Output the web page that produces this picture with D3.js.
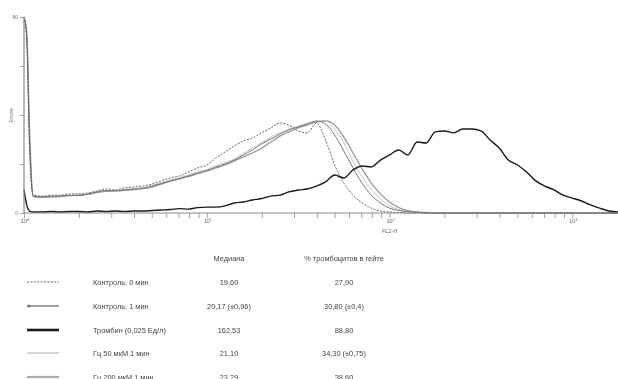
<!DOCTYPE html>
<html>
<head>
<meta charset="utf-8">
<script src="https://cdn.jsdelivr.net/npm/d3@7"></script>
<style>
  html, body { margin: 0; padding: 0; background: #fff; }
  svg { display: block; font-family: "Liberation Sans", Arial, sans-serif; }
</style>
</head>
<body>
<svg id="chart" width="618" height="379"></svg>
<script>
// FL2-H channel positions (log amplified fluorescence)
const fl2 = [1, 1.035, 1.072, 1.122, 1.259, 1.413, 1.585, 1.778, 1.995, 2.239,
  2.512, 2.818, 3.162, 3.548, 3.981, 4.467, 5.012, 5.623, 6.310, 7.079,
  7.943, 8.913, 10, 11.22, 12.59, 14.13, 15.85, 17.78, 19.95, 22.39,
  25.12, 28.18, 31.62, 35.48, 39.81, 44.67, 50.12, 56.23, 63.10, 70.79,
  79.43, 89.13, 100, 112.2, 125.9, 141.3, 158.5, 177.8, 199.5, 223.9,
  251.2, 281.8, 316.2, 354.8, 398.1, 446.7, 501.2, 562.3, 631.0, 707.9,
  794.3, 891.3, 1000, 1122, 1259, 1413, 1585, 1778];

// Event counts per channel for each sample
const control0 = [80, 70.6, 25.7, 7.3, 6.9, 7.3, 7.3, 7.8, 7.8, 8.2,
  9.0, 9.8, 9.4, 10.2, 10.6, 11.0, 11.8, 13.1, 14.3, 15.1,
  16.7, 18.4, 19.6, 22.4, 24.9, 27.3, 29.4, 30.6, 32.7, 34.7,
  36.7, 35.9, 33.5, 32.7, 36.7, 29.8, 19.6, 12.2, 7.3, 4.1,
  2.0, 0.8, 0.4, 0.2, 0, 0, 0, 0, 0, 0,
  0, 0, 0, 0, 0, 0, 0, 0, 0, 0,
  0, 0, 0, 0, 0, 0, 0, 0];
const control1 = [80, 72, 30, 7.0, 6.5, 6.9, 6.9, 7.3, 7.1, 7.8,
  8.6, 9.2, 9.0, 9.4, 9.8, 10.0, 11.0, 12.0, 13.1, 14.0,
  15.1, 16.3, 17.3, 18.8, 20.0, 21.6, 23.7, 25.7, 28.2, 30.2,
  32.2, 33.9, 35.1, 36.3, 37.6, 36.3, 31.8, 25.3, 18.4, 12.2,
  7.3, 4.1, 2.0, 1.0, 0.5, 0.3, 0, 0, 0, 0,
  0, 0, 0, 0, 0, 0, 0, 0, 0, 0,
  0, 0, 0, 0, 0, 0, 0, 0];
const thrombin = [9.4, 3.3, 0.8, 0.4, 0.4, 0.6, 0.4, 0.6, 0.6, 0.4,
  0.8, 0.6, 0.8, 0.6, 0.8, 0.8, 1.0, 1.2, 1.4, 1.8,
  1.6, 2.2, 2.4, 2.4, 2.9, 4.1, 4.5, 5.3, 5.9, 6.9,
  7.3, 8.6, 9.4, 9.8, 11.0, 12.7, 15.5, 14.3, 17.6, 19.2,
  18.8, 21.6, 23.7, 25.7, 23.7, 29.0, 28.6, 33.1, 33.5, 32.7,
  34.3, 34.3, 33.5, 29.8, 26.5, 21.6, 19.6, 16.7, 13.1, 11.0,
  9.4, 7.3, 6.1, 4.9, 3.3, 2.0, 0.8, 0.4];
const hc50 = [80, 73, 32, 6.5, 6.3, 6.7, 6.9, 7.1, 7.3, 7.6,
  8.2, 9.0, 9.2, 9.6, 9.8, 10.4, 11.2, 12.4, 13.5, 14.5,
  15.5, 16.9, 17.8, 19.4, 20.6, 22.0, 24.3, 26.5, 28.6, 31.0,
  32.7, 34.3, 35.5, 36.7, 37.1, 37.6, 34.3, 28.6, 21.2, 14.7,
  9.8, 5.7, 2.9, 1.4, 0.6, 0.3, 0, 0, 0, 0,
  0, 0, 0, 0, 0, 0, 0, 0, 0, 0,
  0, 0, 0, 0, 0, 0, 0, 0];
const hc200 = [80, 74, 35, 6.7, 6.5, 6.5, 6.7, 7.1, 7.3, 7.6,
  8.4, 8.8, 9.0, 9.2, 9.6, 10.0, 10.6, 11.8, 12.9, 13.9,
  14.9, 16.1, 17.1, 18.4, 19.6, 21.2, 22.9, 24.5, 26.5, 29.0,
  31.4, 33.1, 34.7, 35.9, 37.1, 37.6, 35.9, 31.0, 24.5, 18.0,
  12.2, 7.8, 4.5, 2.2, 1.0, 0.4, 0.2, 0, 0, 0,
  0, 0, 0, 0, 0, 0, 0, 0, 0, 0,
  0, 0, 0, 0, 0, 0, 0, 0];

// Legend table rows
const names = ["Контроль, 0 мин", "Контроль, 1 мин", "Тромбин (0,025 Ед/л)",
  "Гц 50 мкМ 1 мин", "Гц 200 мкМ 1 мин"];
const medians = ["19,60", "20,17 (±0,96)", "162,53", "21,10", "23,29"];
const percents = ["27,90", "30,80 (±0,4)", "88,80", "34,30 (±0,75)", "38,60"];
const headers = ["Медиана", "% тромбоцитов в гейте"];

// Axis tick labels
const xDecades = [1, 10, 100, 1000];
const xDecadeLabels = ["10", "10", "10", "10"];
const xDecadeExp = ["0", "1", "2", "3"];
const yTicks = [0, 20, 40, 60, 80];
const yTickLabels = ["0", "", "", "", "80"];

const seriesValues = [control0, control1, thrombin, hc50, hc200];
const styles = [
  { stroke: "#555", width: 0.9, dash: "2,1.4" },
  { stroke: "#777", width: 1.0, dash: null },
  { stroke: "#1a1a1a", width: 1.4, dash: null },
  { stroke: "#c4c4c4", width: 1.0, dash: null },
  { stroke: "#9a9a9a", width: 1.3, dash: null }
];
const legendStyles = [
  { stroke: "#666", width: 1.0, dash: "2,1.4" },
  { stroke: "#777", width: 1.4, dash: null },
  { stroke: "#1a1a1a", width: 2.6, dash: null },
  { stroke: "#cfcfcf", width: 1.6, dash: null },
  { stroke: "#ababab", width: 2.2, dash: null }
];

const svg = d3.select("#chart");
svg.append("defs").append("filter").attr("id", "soft")
  .append("feGaussianBlur").attr("stdDeviation", 0.3);
const root = svg.append("g").attr("filter", "url(#soft)");

const x = d3.scaleLog().domain([1, 1778]).range([24, 618]);
const y = d3.scaleLinear().domain([0, 80]).range([213, 17]);

// Histograms
const line = d3.line()
  .x((d, i) => x(fl2[i]))
  .y(d => y(d))
  .curve(d3.curveMonotoneX);

const order = [3, 4, 1, 0, 2];
order.forEach(k => {
  const s = styles[k];
  root.append("path")
    .datum(seriesValues[k])
    .attr("d", line)
    .attr("fill", "none")
    .attr("stroke", s.stroke)
    .attr("stroke-width", s.width)
    .attr("stroke-dasharray", s.dash)
    .attr("stroke-linejoin", "round");
});

// X axis with log minor ticks
const axisColor = "#8a8a8a";
const xTickVals = [];
[1, 10, 100, 1000].forEach(dec => {
  for (let m = 1; m <= 9; m++) {
    const v = dec * m;
    if (v <= 1778) xTickVals.push(v);
  }
});
const xAxis = root.append("g").attr("transform", "translate(0,213)")
  .call(d3.axisBottom(x).tickValues(xTickVals).tickSize(5).tickFormat(""));
xAxis.select(".domain").attr("stroke", axisColor).attr("stroke-width", 1.2)
  .attr("d", "M24,0H618");
xAxis.selectAll(".tick line").attr("stroke", axisColor).attr("stroke-width", 0.8);

const xl = root.append("g");
xDecades.forEach((v, i) => {
  const t = xl.append("text")
    .attr("x", x(v) + 1)
    .attr("y", 223)
    .attr("text-anchor", "middle")
    .attr("font-size", 5.5)
    .attr("fill", "#666");
  t.append("tspan").text(xDecadeLabels[i]);
  t.append("tspan").attr("dy", -2).attr("font-size", 3.8).text(xDecadeExp[i]);
});
xl.append("text").attr("x", x(100)).attr("y", 233)
  .attr("text-anchor", "middle").attr("font-size", 5.5).attr("fill", "#666")
  .text("FL2-H");

// Y axis
const yAxis = root.append("g").attr("transform", "translate(24,0)")
  .call(d3.axisLeft(y).tickValues(yTicks).tickSize(4)
    .tickFormat((d, i) => yTickLabels[i]));
yAxis.select(".domain").attr("stroke", axisColor).attr("stroke-width", 1.2)
  .attr("d", "M0,213V17");
yAxis.selectAll(".tick line").attr("stroke", axisColor).attr("stroke-width", 0.8);
yAxis.selectAll(".tick text").attr("font-size", 5).attr("fill", "#777")
  .attr("font-family", "Liberation Sans, Arial, sans-serif").attr("x", -6);
root.append("text")
  .attr("transform", "translate(13,115) rotate(-90)")
  .attr("text-anchor", "middle")
  .attr("font-size", 4.6)
  .attr("fill", "#777")
  .text("Events");

// Legend table
const rowY = [282, 306, 330, 353, 377];
const lg = root.append("g").attr("font-size", 7.4).attr("fill", "#444");
lg.append("text").attr("x", 229).attr("y", 258).attr("dy", "0.35em")
  .attr("text-anchor", "middle").text(headers[0]);
lg.append("text").attr("x", 344).attr("y", 258).attr("dy", "0.35em")
  .attr("text-anchor", "middle").text(headers[1]);
names.forEach((n, i) => {
  const s = legendStyles[i];
  const yy = rowY[i];
  lg.append("line").attr("x1", 27).attr("x2", 59).attr("y1", yy).attr("y2", yy)
    .attr("stroke", s.stroke).attr("stroke-width", s.width)
    .attr("stroke-dasharray", s.dash);
  if (i === 1) {
    lg.append("circle").attr("cx", 29).attr("cy", yy).attr("r", 1.6)
      .attr("fill", "#777");
  }
  lg.append("text").attr("x", 93).attr("y", yy).attr("dy", "0.35em").text(n);
  lg.append("text").attr("x", 229).attr("y", yy).attr("dy", "0.35em")
    .attr("text-anchor", "middle").text(medians[i]);
  lg.append("text").attr("x", 344).attr("y", yy).attr("dy", "0.35em")
    .attr("text-anchor", "middle").text(percents[i]);
});
</script>
</body>
</html>
